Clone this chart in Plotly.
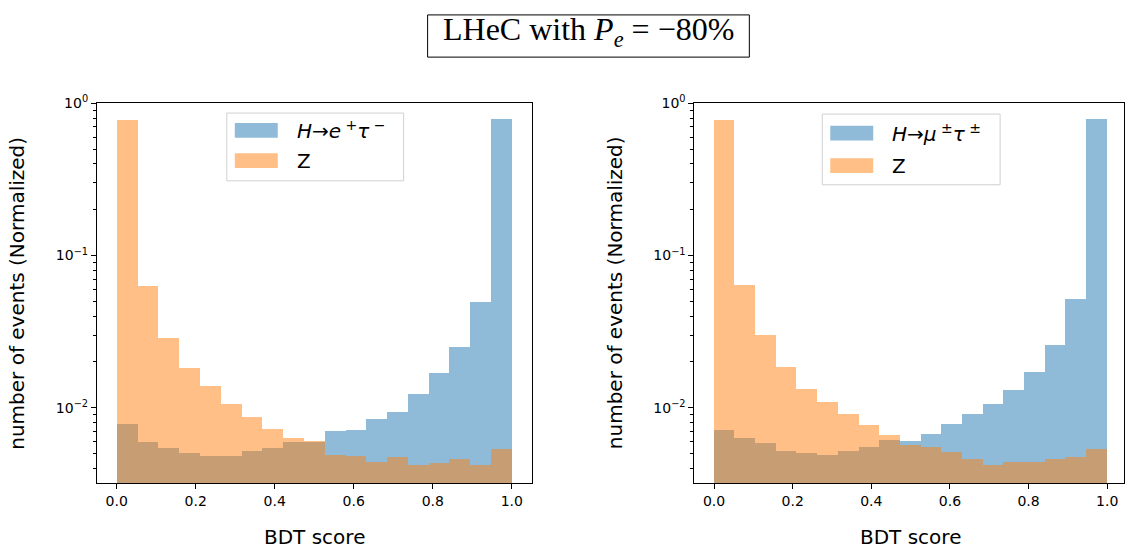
import numpy as np
import plotly.graph_objects as go

W, H = 1125, 548

# ---- data (bin edges + normalized bin contents) ----
bin_edges = np.linspace(0.0, 1.0, 20)

left_signal = [0.0078, 0.0059, 0.0054, 0.0050, 0.0048, 0.0048, 0.0052, 0.0054, 0.0059, 0.0059,
               0.0070, 0.0071, 0.0084, 0.0093, 0.0123, 0.0169, 0.0248, 0.0492, 0.785]
left_z = [0.773, 0.0625, 0.0288, 0.0182, 0.0139, 0.0105, 0.0086, 0.0072, 0.0063, 0.0060,
          0.0049, 0.0048, 0.0044, 0.0047, 0.0042, 0.0043, 0.0046, 0.0042, 0.0053]

right_signal = [0.0071, 0.0063, 0.0058, 0.0052, 0.0050, 0.0049, 0.0052, 0.0055, 0.0061, 0.0060,
                0.0067, 0.0078, 0.0090, 0.0105, 0.0131, 0.0171, 0.0259, 0.0515, 0.785]
right_z = [0.773, 0.0634, 0.0301, 0.0185, 0.0133, 0.0108, 0.0090, 0.0077, 0.0066, 0.0057,
           0.0055, 0.0051, 0.0046, 0.0042, 0.0044, 0.0044, 0.0046, 0.0047, 0.0053]

left_signal_name = "<i>H</i>→<i>e</i><sup> +</sup><i>τ</i><sup> −</sup>"
right_signal_name = "<i>H</i>→<i>μ</i><sup> ±</sup><i>τ</i><sup> ±</sup>"
bkg_name = "Z"

x_ticks = [0.0, 0.2, 0.4, 0.6, 0.8, 1.0]
y_ticks = [0.01, 0.1, 1.0]
y_ticktext = ["10<sup>−2</sup>", "10<sup>−1</sup>", "10<sup>0</sup>"]
y_minor = [0.004, 0.005, 0.006, 0.007, 0.008, 0.009,
           0.02, 0.03, 0.04, 0.05, 0.06, 0.07, 0.08, 0.09,
           0.2, 0.3, 0.4, 0.5, 0.6, 0.7, 0.8, 0.9]

BLUE = "rgba(31,119,180,0.5)"
ORANGE = "rgba(255,127,14,0.5)"
FONT = "DejaVu Sans"

centers = 0.5 * (bin_edges[:-1] + bin_edges[1:])
widths = np.diff(bin_edges)


def px(x):
    return x / W


def py(y):
    return 1 - y / H


fig = go.Figure()
for sig, bkg, xa, ya, nm in [(left_signal, left_z, "x", "y", left_signal_name),
                             (right_signal, right_z, "x2", "y2", right_signal_name)]:
    fig.add_trace(go.Bar(x=centers, y=sig, width=widths, marker=dict(color=BLUE, line=dict(width=0)),
                         xaxis=xa, yaxis=ya, name=nm, showlegend=False))
    fig.add_trace(go.Bar(x=centers, y=bkg, width=widths, marker=dict(color=ORANGE, line=dict(width=0)),
                         xaxis=xa, yaxis=ya, name=bkg_name, showlegend=False))

axis_common = dict(showline=True, linecolor="black", linewidth=1, mirror=True, showgrid=False,
                   zeroline=False, ticks="outside", ticklen=5, tickcolor="black",
                   tickfont=dict(family=FONT, size=14, color="black"))

ydom = [66 / H, 453 / H]
minor = dict(tickvals=y_minor, ticks="outside", ticklen=3, tickcolor="black", showgrid=False)
fig.update_layout(
    width=W, height=H, margin=dict(l=0, r=0, t=0, b=0),
    plot_bgcolor="white", paper_bgcolor="white", barmode="overlay", bargap=0,
    xaxis=dict(domain=[px(97), px(532)], range=[-0.05, 1.05], tickvals=x_ticks, tickformat=".1f",
               anchor="y", **axis_common),
    yaxis=dict(domain=ydom, type="log", range=[-2.496, 0.0], tickvals=y_ticks, ticktext=y_ticktext,
               anchor="x", minor=minor, **axis_common),
    xaxis2=dict(domain=[px(695), 1.0], range=[-0.05, 1.0428], tickvals=x_ticks, tickformat=".1f",
                anchor="y2", **axis_common),
    yaxis2=dict(domain=ydom, type="log", range=[-2.496, 0.0], tickvals=y_ticks, ticktext=y_ticktext,
                anchor="x2", minor=minor, **axis_common),
)

annotations = []
shapes = []
# axis titles
for cx in [(97 + 532) / 2, (695 + 1128) / 2]:
    annotations.append(dict(x=px(cx), y=py(537), xref="paper", yref="paper", text="BDT score",
                            showarrow=False, font=dict(family=FONT, size=20, color="black"),
                            xanchor="center", yanchor="middle"))
for cx in [17, 615]:
    annotations.append(dict(x=px(cx), y=py(288), xref="paper", yref="paper",
                            text="number of events (Normalized)", textangle=-90,
                            showarrow=False, font=dict(family=FONT, size=20, color="black"),
                            xanchor="center", yanchor="middle"))

# legends (drawn manually to mimic wide patches)
for (bx0, by0, bx1, by1, pat_x0, pat_y, txt_x, name) in [
        (227, 105, 404, 174, 235, [115, 146], 295, left_signal_name),
        (823, 106, 1001, 178, 831, [118, 151], 891, right_signal_name)]:
    shapes.append(dict(type="rect", xref="paper", yref="paper", x0=px(bx0), x1=px(bx1),
                       y0=py(by1), y1=py(by0), line=dict(color="#d0d0d0", width=1),
                       fillcolor="rgba(255,255,255,0.8)", layer="above"))
    for py0, col, lab in [(pat_y[0], BLUE, name), (pat_y[1], ORANGE, bkg_name)]:
        shapes.append(dict(type="rect", xref="paper", yref="paper", x0=px(pat_x0), x1=px(pat_x0 + 43),
                           y0=py(py0 + 15), y1=py(py0), line=dict(width=0), fillcolor=col, layer="above"))
        annotations.append(dict(x=px(txt_x), y=py(py0 + 7.5), xref="paper", yref="paper", text=lab,
                                showarrow=False, font=dict(family=FONT, size=20, color="black"),
                                xanchor="left", yanchor="middle"))

# figure title with box
shapes.append(dict(type="rect", xref="paper", yref="paper", x0=px(428), x1=px(750),
                   y0=py(48), y1=py(5), line=dict(color="black", width=1), fillcolor="rgba(0,0,0,0)"))
annotations.append(dict(x=px(589), y=py(22), xref="paper", yref="paper",
                        text="LHeC with <i>P<sub>e</sub></i> = −80%", showarrow=False,
                        font=dict(family="Liberation Serif", size=32, color="black"),
                        xanchor="center", yanchor="middle"))

fig.update_layout(annotations=annotations, shapes=shapes)
fig.write_html("out.html", config={"displayModeBar": False},
               post_script="document.body.style.margin='0';document.body.style.overflow='hidden';")
